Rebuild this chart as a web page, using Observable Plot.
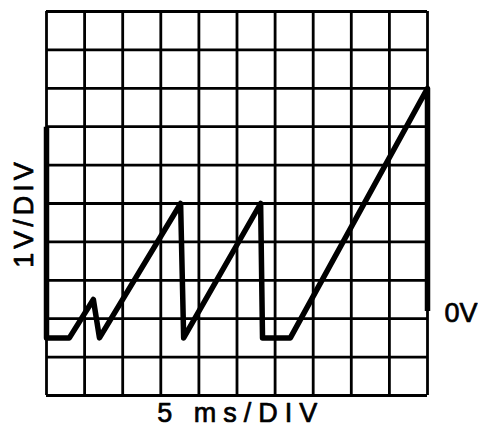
<!DOCTYPE html>
<html>
<head>
<meta charset="utf-8">
<script src="https://cdn.jsdelivr.net/npm/d3@7"></script>
<script src="https://cdn.jsdelivr.net/npm/@observablehq/plot@0.6"></script>
<style>
  html, body { margin: 0; padding: 0; background: #fff; }
  svg { display: block; }
</style>
</head>
<body>
<div id="chart"></div>
<script>
// Grid divisions (10 x 10 oscilloscope graticule)
const gridTicks = [0, 1, 2, 3, 4, 5, 6, 7, 8, 9, 10];

// Trace, in divisions (x: 5 ms/div, y: 1 V/div from bottom of screen)
const traceX = [0, 0, 0.6, 1.23, 1.39, 3.52, 3.6, 5.62, 5.67, 6.4, 10, 10];
const traceY = [7, 1.5, 1.5, 2.5, 1.5, 5.0, 1.5, 5.0, 1.5, 1.5, 8, 2.2];

const yLabel = "1V/DIV";
const xLabel = "5 ms/DIV";
const zeroLabel = "0V";

const trace = traceX.map((x, i) => ({x, y: traceY[i]}));
const font = "Liberation Sans, Arial, sans-serif";
const textStyle = {fontSize: 27, fill: "#000", stroke: "#000", strokeWidth: 0.7, fontFamily: font};

const chart = Plot.plot({
  width: 478,
  height: 429,
  marginLeft: 46,
  marginRight: 51,
  marginTop: 11,
  marginBottom: 34,
  x: {domain: [0, 10], axis: null},
  y: {domain: [0, 10], axis: null},
  style: {fontFamily: font, background: "#fff"},
  marks: [
    Plot.ruleX(gridTicks, {x: d => d, stroke: "#000", strokeWidth: 2.8, strokeOpacity: 1}),
    Plot.ruleY(gridTicks, {y: d => d, stroke: "#000", strokeWidth: 2.8, strokeOpacity: 1}),
    Plot.line(trace, {x: "x", y: "y", stroke: "#000", strokeWidth: 5.5, strokeLinejoin: "round", strokeLinecap: "butt"}),
    Plot.text([yLabel], {x: 0, y: 4.75, text: d => d, rotate: -90, dx: -22, ...textStyle}),
    Plot.text([xLabel], {x: 5.1, y: 0, text: d => d, dy: 18, ...textStyle}),
    Plot.text([zeroLabel], {x: 10, y: 2.13, text: d => d, dx: 17, textAnchor: "start", ...textStyle})
  ]
});
// letter spacing as in the original lettering
const spacing = {[yLabel]: "4px", [xLabel]: "7px"};
d3.select(chart).selectAll("text").each(function() {
  const s = spacing[this.textContent];
  if (s) this.style.letterSpacing = s;
});
document.getElementById("chart").appendChild(chart);
</script>
</body>
</html>
